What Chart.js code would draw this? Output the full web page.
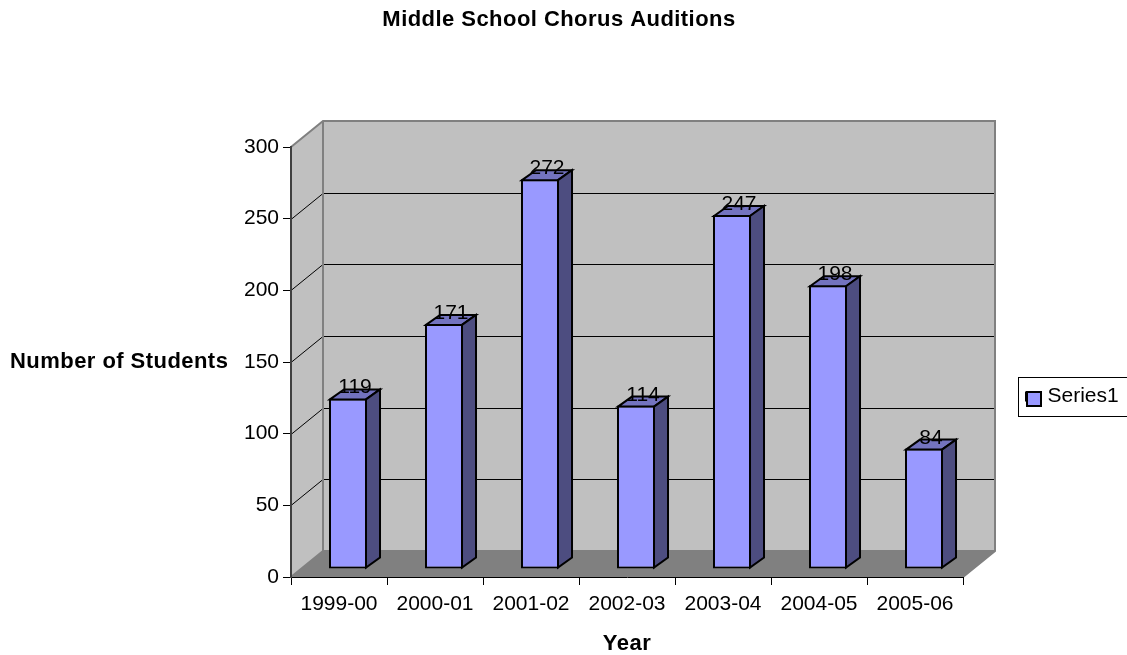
<!DOCTYPE html>
<html>
<head>
<meta charset="utf-8">
<title>Middle School Chorus Auditions</title>
<script src="https://cdn.jsdelivr.net/npm/chart.js@4"></script>
<style>
    html, body { margin: 0; padding: 0; background: #fff; }
    canvas { display: block; }
</style>
</head>
<body>
<canvas id="chorusChart" width="1127" height="655"></canvas>
<script>
// chart data
const years = ["1999-00", "2000-01", "2001-02", "2002-03", "2003-04", "2004-05", "2005-06"];
const students = [119, 171, 272, 114, 247, 198, 84];
const seriesName = "Series1";
const yMax = 300;
const yStep = 50;

const fontName = "'Liberation Sans', Arial, sans-serif";
const barColor = "#9999ff";

// depth of the fake 3d box and of the bars
const wallDx = 32, wallDy = -26;
const barShiftX = 9, barShiftY = -8;
const barDx = 14, barDy = -10;
const titleSpacing = "0.45px";

function poly(ctx, pts, fill, stroke, lineWidth) {
    ctx.beginPath();
    pts.forEach((p, i) => i ? ctx.lineTo(p[0], p[1]) : ctx.moveTo(p[0], p[1]));
    ctx.closePath();
    if (fill) { ctx.fillStyle = fill; ctx.fill(); }
    if (stroke) { ctx.strokeStyle = stroke; ctx.lineWidth = lineWidth; ctx.stroke(); }
}

// runs one of the library's draw methods with wider letters
function spaced(obj, method, ctx) {
    const original = obj[method];
    obj[method] = function() {
        ctx.save();
        ctx.letterSpacing = titleSpacing;
        original.apply(this, arguments);
        ctx.restore();
    };
}

const box3d = {
    id: "box3d",
    afterInit(chart) {
        spaced(chart.titleBlock, "draw", chart.ctx);
    },
    afterLayout(chart) {
        if (!chart.scales.x.spacedTitle) {
            spaced(chart.scales.x, "drawTitle", chart.ctx);
            chart.scales.x.spacedTitle = true;
        }
    },
    beforeDraw(chart) {
        const ctx = chart.ctx;
        const { left, right, top, bottom } = chart.chartArea;
        const y = chart.scales.y;

        // title is centred a little left of the page middle
        chart.titleBlock.left = 154;
        chart.titleBlock.right = 964;

        // legend sits outside the plot
        const legend = chart.legend;
        legend.left = 1018; legend.right = 1127; legend.top = 378; legend.bottom = 417; legend.width = 109;

        ctx.save();
        // back wall, side wall, floor
        poly(ctx, [[left + wallDx, top + wallDy], [right + wallDx, top + wallDy], [right + wallDx, bottom + wallDy], [left + wallDx, bottom + wallDy]], "#c0c0c0");
        poly(ctx, [[left, top], [left + wallDx, top + wallDy], [left + wallDx, bottom + wallDy], [left, bottom]], "#c0c0c0");
        poly(ctx, [[left, bottom], [left + wallDx, bottom + wallDy], [right + wallDx, bottom + wallDy], [right, bottom]], "#808080");

        // gridlines, one per tick
        ctx.strokeStyle = "#000";
        ctx.lineWidth = 1;
        y.ticks.forEach(t => {
            if (t.value === 0 || t.value === yMax) return;
            const py = Math.round(y.getPixelForValue(t.value)) + 0.5;
            ctx.beginPath();
            ctx.moveTo(left, py);
            ctx.lineTo(left + wallDx, py + wallDy);
            ctx.lineTo(right + wallDx, py + wallDy);
            ctx.stroke();
        });

        // wall outline
        ctx.strokeStyle = "#808080";
        ctx.lineWidth = 2;
        ctx.beginPath();
        ctx.moveTo(left, top);
        ctx.lineTo(left + wallDx, top + wallDy);
        ctx.lineTo(right + wallDx, top + wallDy);
        ctx.lineTo(right + wallDx, bottom + wallDy);
        ctx.lineTo(right, bottom);
        ctx.moveTo(left + wallDx, top + wallDy);
        ctx.lineTo(left + wallDx, bottom + wallDy);
        ctx.lineTo(left, bottom);
        ctx.moveTo(left + wallDx, bottom + wallDy);
        ctx.lineTo(right + wallDx, bottom + wallDy);
        ctx.stroke();
        ctx.restore();
    },
    beforeDatasetDraw(chart) {
        chart.ctx.save();
        chart.ctx.translate(barShiftX, barShiftY);
    },
    afterDatasetDraw(chart, args) {
        const ctx = chart.ctx;
        args.meta.data.forEach(bar => {
            const l = bar.x - bar.width / 2 + 1, r = bar.x + bar.width / 2 - 1;
            const t = bar.y + 1, b = bar.base - 1;
            ctx.lineJoin = "miter";
            poly(ctx, [[l, t], [l + barDx, t + barDy], [r + barDx, t + barDy], [r, t]], "#7373bf", "#000", 2);
            poly(ctx, [[r, t], [r + barDx, t + barDy], [r + barDx, b + barDy], [r, b]], "#4d4d80", "#000", 2);
        });
        ctx.restore();
    },
    afterDatasetsDraw(chart) {
        const ctx = chart.ctx;
        const meta = chart.getDatasetMeta(0);
        ctx.save();
        // value labels
        ctx.font = "21px " + fontName;
        ctx.fillStyle = "#000";
        ctx.textAlign = "center";
        ctx.textBaseline = "alphabetic";
        meta.data.forEach((bar, i) => {
            ctx.fillText(students[i], bar.x + barShiftX + 7, bar.y + barShiftY - 5);
        });
        // y axis title is horizontal in the original
        ctx.font = "bold 22px " + fontName;
        ctx.textAlign = "left";
        ctx.letterSpacing = titleSpacing;
        ctx.fillText("Number of Students", 10, 368);
        ctx.letterSpacing = "0px";
        // legend frame and swatch
        ctx.strokeStyle = "#000";
        ctx.lineWidth = 1;
        ctx.strokeRect(1018.5, 377.5, 120, 39);
        ctx.lineWidth = 2;
        ctx.fillStyle = barColor;
        ctx.fillRect(1027, 392, 14, 14);
        ctx.strokeRect(1027, 392, 14, 14);
        ctx.restore();
    }
};

new Chart(document.getElementById("chorusChart"), {
    type: "bar",
    data: {
        labels: years,
        datasets: [{
            label: seriesName,
            data: students,
            backgroundColor: barColor,
            borderColor: "#000",
            borderWidth: 2,
            borderSkipped: false,
            barPercentage: 0.396,
            categoryPercentage: 1
        }]
    },
    options: {
        responsive: false,
        animation: false,
        layout: { padding: { left: 0, right: 164, top: 0, bottom: 0 } },
        plugins: {
            title: {
                display: true,
                text: "Middle School Chorus Auditions",
                color: "#000",
                font: { family: fontName, size: 22, weight: "bold" },
                padding: { top: 7, bottom: 113.6 }
            },
            legend: {
                position: "chartArea",
                align: "start",
                labels: {
                    color: "#000",
                    font: { family: fontName, size: 21 },
                    boxWidth: 11,
                    boxHeight: 8,
                    padding: 8
                }
            },
            tooltip: { enabled: false }
        },
        scales: {
            x: {
                afterFit(s) { s.height = 78; },
                grid: { drawOnChartArea: false, color: "#000", tickLength: 8 },
                border: { color: "#000", width: 1 },
                ticks: { color: "#000", font: { family: fontName, size: 21 }, maxRotation: 0, padding: 7 },
                title: {
                    display: true,
                    text: "Year",
                    color: "#000",
                    font: { family: fontName, size: 22, weight: "bold", lineHeight: 1 },
                    padding: { top: 0, bottom: 0 }
                }
            },
            y: {
                min: 0,
                max: yMax,
                afterFit(s) { s.width = 291; },
                grid: { drawOnChartArea: false, color: "#000", tickLength: 8 },
                border: { color: "#404040", width: 2 },
                ticks: { stepSize: yStep, color: "#000", font: { family: fontName, size: 21 }, padding: 4 }
            }
        }
    },
    plugins: [box3d]
});
</script>
</body>
</html>
